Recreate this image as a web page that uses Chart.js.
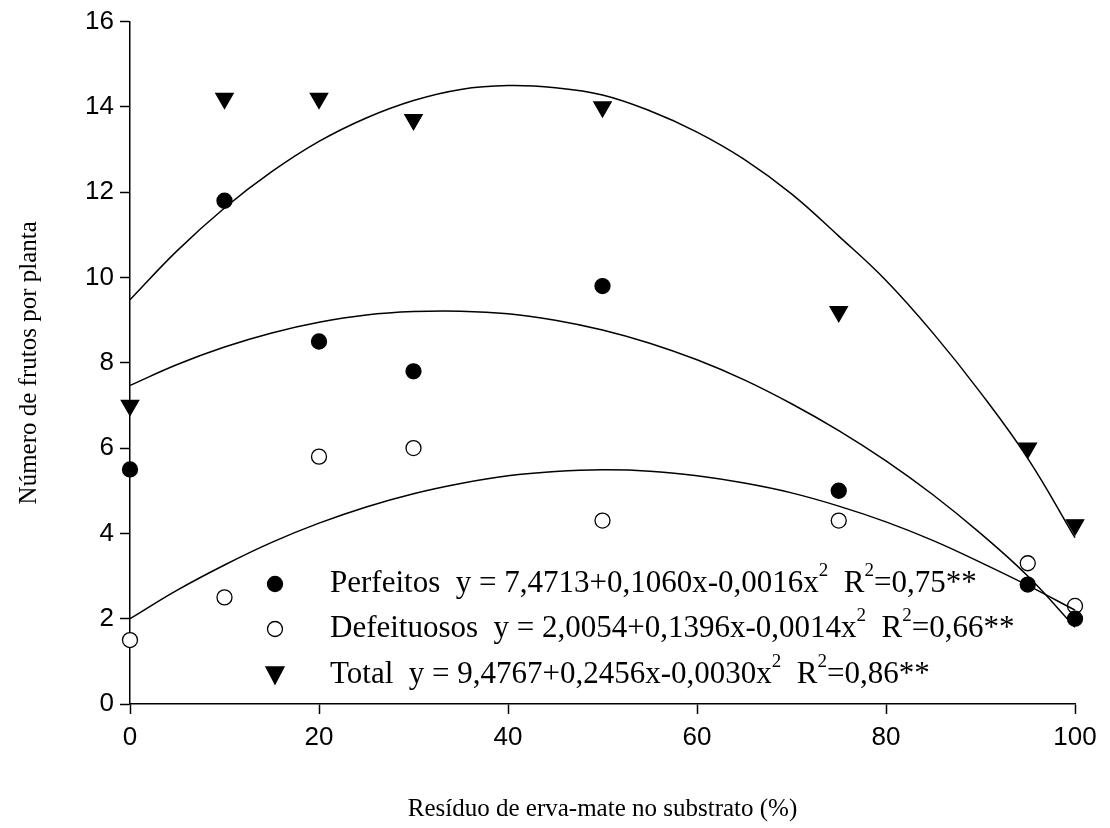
<!DOCTYPE html>
<html>
<head>
<meta charset="utf-8">
<script src="https://cdn.jsdelivr.net/npm/chart.js@4"></script>
<style>
  html, body { margin: 0; padding: 0; background: #fff; }
  #wrap { width: 1110px; height: 828px; }
</style>
</head>
<body>
<div id="wrap"><canvas id="chart"></canvas></div>
<script>
// observed points
const doses = [0, 10, 20, 30, 50, 75, 95, 100];
const perfeitos = [5.5, 11.8, 8.5, 7.8, 9.8, 5.0, 2.8, 2.0];
const defeituosos = [1.5, 2.5, 5.8, 6.0, 4.3, 4.3, 3.3, 2.3];
const total = [7.0, 14.2, 14.2, 13.7, 14.0, 9.2, 6.0, 4.2];

// fitted curves
const curveX = [0, 5, 10, 15, 20, 25, 30, 35, 40, 45, 50, 55, 60, 65, 70, 75, 80, 85, 90, 95, 100];
const perfeitosFit = [7.47, 7.96, 8.37, 8.70, 8.95, 9.12, 9.20, 9.21, 9.15, 9.00, 8.77, 8.46, 8.07, 7.60, 7.04, 6.41, 5.70, 4.90, 4.00, 3.00, 1.80];
const defeituososFit = [2.0, 2.67, 3.26, 3.79, 4.24, 4.62, 4.93, 5.17, 5.35, 5.45, 5.49, 5.46, 5.35, 5.18, 4.95, 4.64, 4.27, 3.83, 3.32, 2.78, 2.20];
const totalFit = [9.48, 10.63, 11.63, 12.48, 13.19, 13.74, 14.15, 14.41, 14.50, 14.45, 14.28, 13.91, 13.41, 12.77, 11.96, 10.97, 9.93, 8.69, 7.30, 5.76, 3.90];

const xTicks = [0, 20, 40, 60, 80, 100];
const yTicks = [0, 2, 4, 6, 8, 10, 12, 14, 16];

const legendRows = [
  { name: 'Perfeitos', eq: 'y = 7,4713+0,1060x-0,0016x', r2: '=0,75**', style: 'circle', fill: '#000' },
  { name: 'Defeituosos', eq: 'y = 2,0054+0,1396x-0,0014x', r2: '=0,66**', style: 'circle', fill: '#fff' },
  { name: 'Total', eq: 'y = 9,4767+0,2456x-0,0030x', r2: '=0,86**', style: 'triangle', fill: '#000' }
];

function pts(xs, ys) { return xs.map((x, i) => ({ x: x, y: ys[i] })); }

function curve(ys) {
  return { type: 'line', data: pts(curveX, ys), borderColor: '#000', borderWidth: 1.5,
    pointRadius: 0, tension: 0.4, fill: false, showLine: true };
}
function marks(ys, style, fill, r, rot) {
  return { type: 'scatter', data: pts(doses, ys), pointStyle: style, pointRadius: r,
    rotation: rot || 0, backgroundColor: fill, borderColor: '#000', borderWidth: 1.3 };
}

const serif = '"Liberation Serif", "Times New Roman", serif';
const sans = '"Liberation Sans", Arial, sans-serif';

const legendPlugin = {
  id: 'eqLegend',
  afterDraw(chart) {
    const ctx = chart.ctx;
    const ys = [584, 629, 675];
    const big = '31px ' + serif, small = '19px ' + serif;
    ctx.save();
    legendRows.forEach((row, i) => {
      const y = ys[i];
      ctx.fillStyle = row.fill;
      ctx.strokeStyle = '#000';
      ctx.lineWidth = 1.3;
      ctx.beginPath();
      if (row.style === 'circle') {
        ctx.arc(275, y, 7.5, 0, Math.PI * 2);
      } else {
        ctx.moveTo(266, y - 8); ctx.lineTo(284, y - 8); ctx.lineTo(275, y + 9); ctx.closePath();
      }
      ctx.fill(); ctx.stroke();
      ctx.fillStyle = '#000';
      ctx.textBaseline = 'middle';
      const parts = [
        [row.name + '  ' + row.eq, big, 0], ['2', small, -13],
        ['  R', big, 0], ['2', small, -13], [row.r2, big, 0]
      ];
      let x = 330;
      parts.forEach(p => {
        ctx.font = p[1];
        ctx.fillText(p[0], x, y + p[2]);
        x += ctx.measureText(p[0]).width;
      });
    });
    ctx.restore();
  }
};

new Chart(document.getElementById('chart'), {
  data: {
    datasets: [
      curve(totalFit), curve(perfeitosFit), curve(defeituososFit),
      marks(total, 'triangle', '#000', 10, 180),
      marks(perfeitos, 'circle', '#000', 7.5),
      marks(defeituosos, 'circle', '#fff', 7.5)
    ]
  },
  options: {
    responsive: true,
    maintainAspectRatio: false,
    animation: false,
    clip: false,
    layout: { padding: { top: 18, right: 35, left: 0, bottom: 0 } },
    plugins: { legend: { display: false }, tooltip: { enabled: false } },
    scales: {
      x: {
        type: 'linear', min: 0, max: 100,
        afterBuildTicks: s => { s.ticks = xTicks.map(v => ({ value: v })); },
        afterFit: s => { s.height = 124; },
        grid: { display: true, drawOnChartArea: false, drawTicks: true, tickLength: 10, color: '#000', tickWidth: 1.5 },
        border: { color: '#000', width: 1.5 },
        ticks: { color: '#000', font: { family: sans, size: 26 }, padding: 8, maxRotation: 0 },
        title: { display: true, text: 'Resíduo de erva-mate no substrato (%)', color: '#000',
          font: { family: serif, size: 25 }, padding: { top: 22 } }
      },
      y: {
        type: 'linear', min: 0, max: 16,
        afterBuildTicks: s => { s.ticks = yTicks.map(v => ({ value: v })); },
        afterFit: s => { s.width = 130; },
        grid: { display: true, drawOnChartArea: false, drawTicks: true, tickLength: 10, color: '#000', tickWidth: 1.5 },
        border: { color: '#000', width: 1.5 },
        ticks: { color: '#000', font: { family: sans, size: 26 }, padding: 6 },
        title: { display: true, text: 'Número de frutos por planta', color: '#000',
          font: { family: serif, size: 25 }, padding: { top: 14, bottom: 0 } }
      }
    }
  },
  plugins: [legendPlugin]
});
</script>
</body>
</html>
